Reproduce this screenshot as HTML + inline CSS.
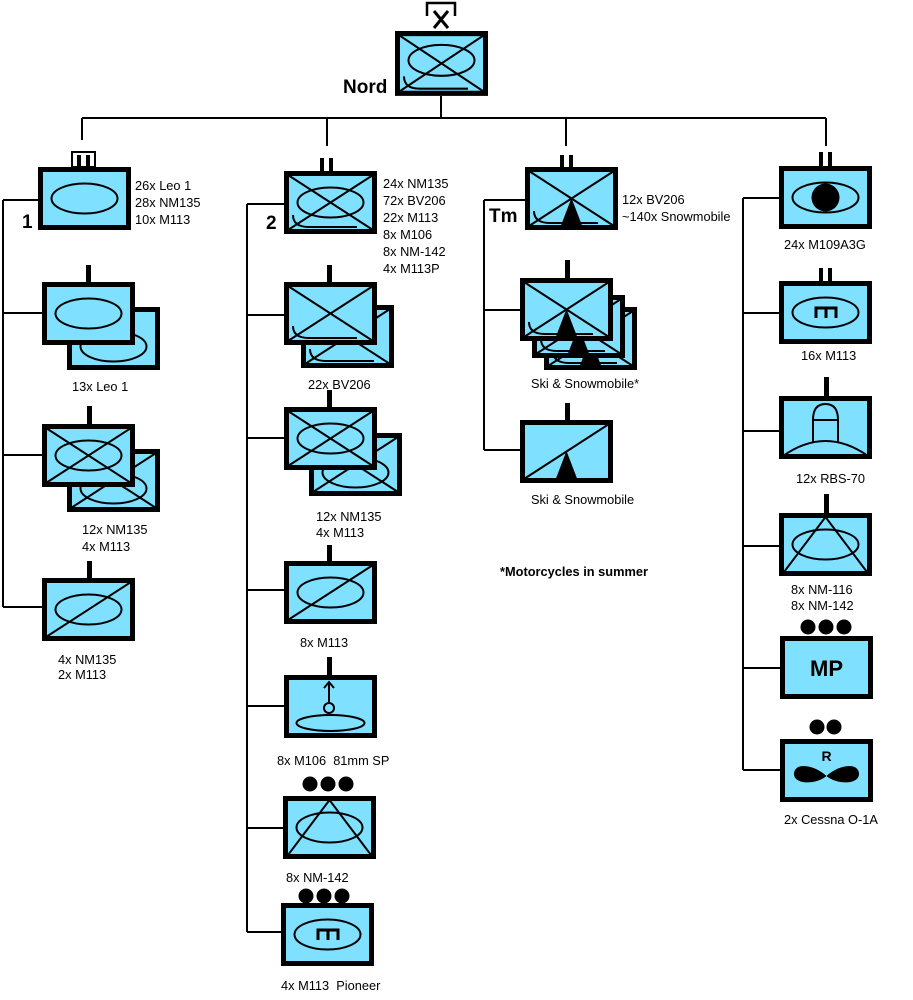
<!DOCTYPE html>
<html><head><meta charset="utf-8"><style>
html,body{margin:0;padding:0;background:#fff}
svg{display:block}
text{font-family:"Liberation Sans",sans-serif;font-size:12.8px;fill:#000}
.b{font-weight:bold}
</style></head><body>
<svg width="913" height="1000" viewBox="0 0 913 1000" xmlns="http://www.w3.org/2000/svg">
<defs>
<g id="f"><rect x="2.5" y="2.5" width="88" height="58" fill="#80e0ff" stroke="#000" stroke-width="5"/></g>
<path id="x" d="M4 4L89 59M89 4L4 59" stroke="#000" stroke-width="2" fill="none"/>
<ellipse id="e" cx="46.5" cy="31.5" rx="33" ry="15" fill="none" stroke="#000" stroke-width="2"/>
<path id="h" d="M9 44q0 12 16 12h48" fill="none" stroke="#000" stroke-width="2"/>
<path id="d" d="M4 59L89 4" stroke="#000" stroke-width="2"/>
<polygon id="t" points="35,61 58,61 46.5,31" fill="#000"/>
<path id="m" d="M37 37v-10h20v10M47 27v10" fill="none" stroke="#000" stroke-width="3"/>
<path id="v" d="M5 59L46.5 4L88 59" fill="none" stroke="#000" stroke-width="2"/>
</defs>
<g fill="none" stroke="#000" stroke-width="2">
<path d="M441 96V118M82 118H826M82 118V140M327 118V146M566 118V146M826 118V146"/>
<path d="M3 200V607M3 200H38M3 313H42M3 455H42M3 607H42"/>
<path d="M247 204V932M247 204H284M247 315H284M247 438H284M247 590H284M247 706H284M247 828H284M247 932H284"/>
<path d="M484 200V450M484 200H526M484 310H521M484 450H521"/>
<path d="M743 198V770M743 198H780M743 313H780M743 431H780M743 546H780M743 668H780M743 770H780"/>
</g>

<!-- Nord -->
<path d="M427 16V3H455V16" fill="none" stroke="#000" stroke-width="2.5"/>
<path d="M434 11L448 28M448 11L434 28" stroke="#000" stroke-width="3"/>
<g transform="translate(395,31) scale(1,1.03)"><use href="#f"/><use href="#x"/><use href="#e" transform="translate(0,-3)"/><use href="#h"/></g>
<text x="343" y="93" class="b" style="font-size:19px">Nord</text>

<!-- Col 1 -->
<rect x="72" y="152" width="23" height="15" fill="none" stroke="#000" stroke-width="2"/>
<rect x="77" y="155" width="4" height="12"/><rect x="86" y="155" width="4" height="12"/>
<g transform="translate(38,167)"><use href="#f"/><use href="#e"/></g>
<text x="135" y="190">26x Leo 1</text><text x="135" y="207">28x NM135</text><text x="135" y="224">10x M113</text>
<text x="22" y="228" class="b" style="font-size:19px">1</text>

<rect x="86" y="265" width="5" height="18"/>
<g transform="translate(67,307)"><use href="#f"/><use href="#e" transform="translate(0,8)"/></g>
<g transform="translate(42,282)"><use href="#f"/><use href="#e"/></g>
<text x="72" y="391">13x Leo 1</text>

<rect x="87" y="406" width="5" height="19"/>
<g transform="translate(67,449)"><use href="#f"/><use href="#x"/><use href="#e" transform="translate(0,8)"/></g>
<g transform="translate(42,424)"><use href="#f"/><use href="#x"/><use href="#e"/></g>
<text x="82" y="534">12x NM135</text><text x="82" y="551">4x M113</text>

<rect x="87" y="561" width="5" height="18"/>
<g transform="translate(42,578)"><use href="#f"/><use href="#d"/><use href="#e"/></g>
<text x="58" y="664">4x NM135</text><text x="58" y="679">2x M113</text>

<!-- Col 2 -->
<rect x="320" y="158" width="4" height="14"/><rect x="329" y="158" width="4" height="14"/>
<g transform="translate(284,171)"><use href="#f"/><use href="#x"/><use href="#e"/><use href="#h"/></g>
<text x="383" y="188">24x NM135</text><text x="383" y="205">72x BV206</text><text x="383" y="222">22x M113</text><text x="383" y="239">8x M106</text><text x="383" y="256">8x NM-142</text><text x="383" y="273">4x M113P</text>
<text x="266" y="229" class="b" style="font-size:19px">2</text>

<rect x="327" y="265" width="5" height="19"/>
<g transform="translate(301,305)"><use href="#f"/><use href="#x"/><use href="#h"/></g>
<g transform="translate(284,282)"><use href="#f"/><use href="#x"/><use href="#h"/></g>
<text x="308" y="389">22x BV206</text>

<rect x="327" y="390" width="5" height="18"/>
<g transform="translate(309,433)"><use href="#f"/><use href="#x"/><use href="#e" transform="translate(0,8)"/></g>
<g transform="translate(284,407)"><use href="#f"/><use href="#x"/><use href="#e"/></g>
<text x="316" y="521">12x NM135</text><text x="316" y="537">4x M113</text>

<rect x="327" y="545" width="5" height="17"/>
<g transform="translate(284,561)"><use href="#f"/><use href="#d"/><use href="#e"/></g>
<text x="300" y="647">8x M113</text>

<rect x="327" y="657" width="5" height="19"/>
<g transform="translate(284,675)"><use href="#f"/>
<ellipse cx="46.5" cy="48" rx="34" ry="8" fill="none" stroke="#000" stroke-width="2"/>
<circle cx="45" cy="33" r="5" fill="none" stroke="#000" stroke-width="2"/>
<path d="M45 28V7M40 13L45 7L50 13" fill="none" stroke="#000" stroke-width="2"/></g>
<text x="277" y="765">8x M106&#160;&#160;81mm SP</text>

<g fill="#000"><circle cx="310" cy="784" r="7.5"/><circle cx="328" cy="784" r="7.5"/><circle cx="346" cy="784" r="7.5"/></g>
<g transform="translate(283,796)"><use href="#f"/><use href="#e"/><use href="#v"/></g>
<text x="286" y="882">8x NM-142</text>

<g fill="#000"><circle cx="306" cy="896" r="7.5"/><circle cx="324" cy="896" r="7.5"/><circle cx="342" cy="896" r="7.5"/></g>
<g transform="translate(281,903)"><use href="#f"/><use href="#e"/><use href="#m"/></g>
<text x="281" y="990">4x M113&#160;&#160;Pioneer</text>

<!-- Col 3 -->
<rect x="560" y="155" width="4" height="13"/><rect x="569" y="155" width="4" height="13"/>
<g transform="translate(525,167)"><use href="#f"/><use href="#x"/><use href="#h"/><use href="#t"/></g>
<text x="622" y="204">12x BV206</text><text x="622" y="221">~140x Snowmobile</text>
<text x="489" y="222" class="b" style="font-size:19px">Tm</text>

<rect x="565" y="260" width="5" height="19"/>
<g transform="translate(544,307)"><use href="#f"/><use href="#x"/><use href="#h"/><use href="#t"/></g>
<g transform="translate(532,295)"><use href="#f"/><use href="#x"/><use href="#h"/><use href="#t"/></g>
<g transform="translate(520,278)"><use href="#f"/><use href="#x"/><use href="#h"/><use href="#t"/></g>
<text x="531" y="388">Ski &amp; Snowmobile*</text>

<rect x="565" y="403" width="5" height="18"/>
<g transform="translate(520,420)"><use href="#f"/><use href="#d"/><use href="#t"/></g>
<text x="531" y="504">Ski &amp; Snowmobile</text>
<text x="500" y="576" class="b">*Motorcycles in summer</text>

<!-- Col 4 -->
<rect x="819" y="152" width="4" height="14"/><rect x="828" y="152" width="4" height="14"/>
<g transform="translate(779,166)"><use href="#f"/><use href="#e"/><circle cx="46.5" cy="31.5" r="14" fill="#000"/></g>
<text x="784" y="249">24x M109A3G</text>

<rect x="819" y="268" width="4" height="14"/><rect x="828" y="268" width="4" height="14"/>
<g transform="translate(779,281)"><use href="#f"/><use href="#e"/><use href="#m"/></g>
<text x="801" y="360">16x M113</text>

<rect x="824" y="377" width="5" height="20"/>
<g transform="translate(779,396)"><use href="#f"/>
<path d="M4 60Q46.5 30 89 60" fill="none" stroke="#000" stroke-width="2"/>
<path d="M34 47V24Q34 8 46.5 8Q59 8 59 24V47M34 24H59" fill="none" stroke="#000" stroke-width="2"/></g>
<text x="796" y="483">12x RBS-70</text>

<rect x="824" y="494" width="5" height="20"/>
<g transform="translate(779,513)"><use href="#f"/><use href="#e"/><use href="#v"/></g>
<text x="791" y="594">8x NM-116</text><text x="791" y="610">8x NM-142</text>

<g fill="#000"><circle cx="808" cy="627" r="7.5"/><circle cx="826" cy="627" r="7.5"/><circle cx="844" cy="627" r="7.5"/></g>
<g transform="translate(780,636)"><use href="#f"/><text x="46.5" y="40" text-anchor="middle" class="b" style="font-size:22px">MP</text></g>

<g fill="#000"><circle cx="817" cy="727" r="7.5"/><circle cx="834" cy="727" r="7.5"/></g>
<g transform="translate(780,739)"><use href="#f"/>
<text x="46.5" y="22" text-anchor="middle" class="b" style="font-size:14px">R</text>
<path d="M46.5 37C36 27 16 22 14 34C13 46 36 46 46.5 37C57 46 80 46 79 34C77 22 57 27 46.5 37Z" fill="#000"/></g>
<text x="784" y="824">2x Cessna O-1A</text>
</svg>
</body></html>
